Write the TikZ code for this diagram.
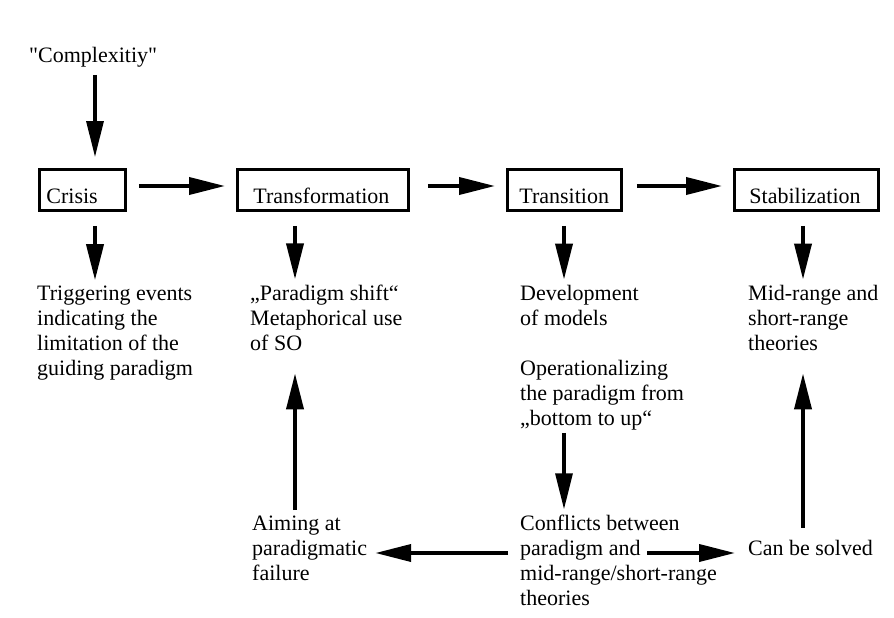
\documentclass[tikz,border=0pt]{standalone}
\usepackage{fontspec}
\setmainfont{Liberation Serif}
\usepackage{tikz}
\usetikzlibrary{arrows.meta, positioning}

\tikzset{
  txt/.style={font=\fontsize{22}{25}\selectfont, align=left, anchor=base west, inner sep=0pt},
  stage/.style={draw, line width=2.8pt, anchor=north west, font=\fontsize{22}{25}\selectfont,
    align=left, minimum height=41pt, inner ysep=7pt, text height=27pt, text depth=0pt},
  arr/.style={line width=3.8pt, -{Triangle[length=36pt, width=17pt]}},
  thinarr/.style={line width=3.2pt, -{Triangle[length=36pt, width=17pt]}}
}

\begin{document}
\begin{tikzpicture}[x=1pt, y=-1pt]
  \useasboundingbox[fill=white] (0,0) rectangle (894,618);

  % Phases
  \node[stage, inner xsep=7pt, text width=72pt] (crisis) at (38,168) {Crisis};
  \node[stage, inner xsep=16pt, text width=139pt] (trans) at (236,168) {Transformation};
  \node[stage, inner xsep=12pt, text width=90pt] (transi) at (506,168) {Transition};
  \node[stage, inner xsep=15pt, text width=114pt] (stab) at (733,168) {Stabilization};

  % Texts (placed at the baseline of their last line)
  \node[txt] (cmplx) at (29,63) {\textquotedbl Complexitiy\textquotedbl};
  \node[txt] (trig) at (37,375) {Triggering events\\indicating the\\limitation of the\\guiding paradigm};
  \node[txt] (shift) at (250,350) {„Paradigm shift“\\Metaphorical use\\of SO};
  \node[txt] (devel) at (520,325) {Development\\of models};
  \node[txt] (midr) at (748,350) {Mid-range and\\short-range\\theories};
  \node[txt] (oper) at (520,425) {Operationalizing\\the paradigm from\\„bottom to up“};
  \node[txt] (confl) at (520,605) {Conflicts between\\paradigm and\\mid-range/short-range\\theories};
  \node[txt] (aim) at (252,580) {Aiming at\\paradigmatic\\failure};
  \node[txt] (solved) at (748,555) {Can be solved};

  % Columns and row of the arrows
  \coordinate (xa) at (95,0);
  \coordinate (xb) at (295,0);
  \coordinate (xc) at (564,0);
  \coordinate (xd) at (803,0);
  \coordinate (yr) at (0,553);

  % Arrows
  \draw[thinarr, shorten <=7pt, shorten >=11pt] (cmplx.south -| xa) -- (crisis.north -| xa);
  \draw[arr, shorten <=12pt, shorten >=11pt] (crisis.east |- 0,186) -- (trans.west |- 0,186);
  \draw[arr, shorten <=18pt, shorten >=11pt] (trans.east |- 0,186) -- (transi.west |- 0,186);
  \draw[arr, shorten <=14pt, shorten >=11pt] (transi.east |- 0,186) -- (stab.west |- 0,186);

  \draw[arr, shorten <=14pt, shorten >=5pt] (crisis.south -| xa) -- (trig.north -| xa);
  \draw[arr, shorten <=14pt, shorten >=5pt] (trans.south -| xb) -- (shift.north -| xb);
  \draw[arr, shorten <=14pt, shorten >=5pt] (transi.south -| xc) -- (devel.north -| xc);
  \draw[arr, shorten <=14pt, shorten >=5pt] (stab.south -| xd) -- (midr.north -| xd);

  \draw[thinarr, shorten <=3pt, shorten >=5pt] (oper.south -| xc) -- (confl.north -| xc);
  \draw[arr, shorten <=5pt, shorten >=23pt] (aim.north -| xb) -- (shift.south -| xb);
  \draw[arr, shorten <=12pt, shorten >=23pt] (solved.north -| xd) -- (midr.south -| xd);
  \draw[arr, shorten <=12pt, shorten >=8pt] (confl.west |- yr) -- (aim.east |- yr);
  \draw[arr, shorten >=13pt] ([xshift=127pt]confl.west |- yr) -- (solved.west |- yr);
\end{tikzpicture}
\end{document}
